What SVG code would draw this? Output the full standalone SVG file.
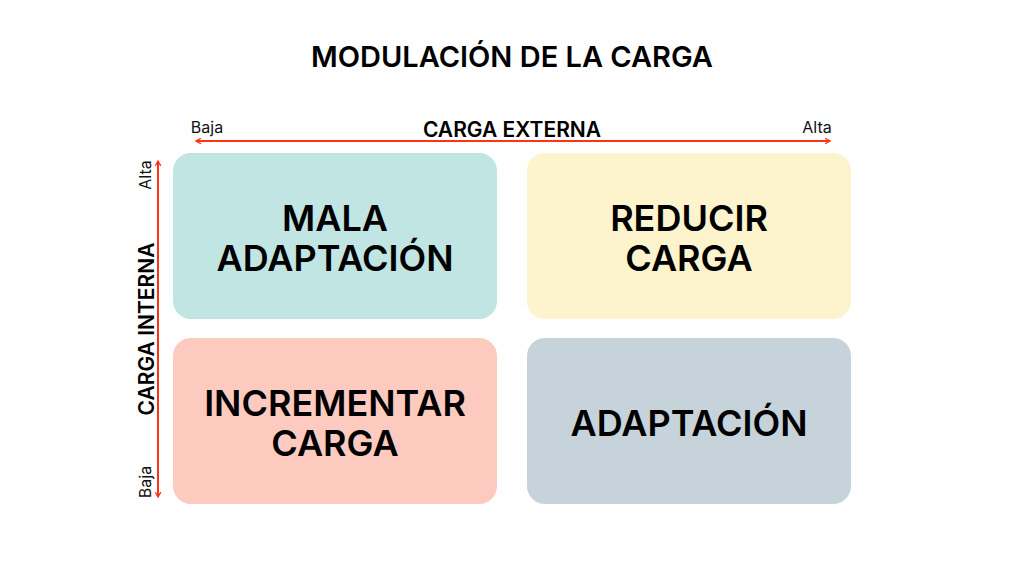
<svg xmlns="http://www.w3.org/2000/svg" width="1024" height="576" viewBox="0 0 1024 576">
<defs>
<marker id="ah" viewBox="0 0 10 10" refX="8" refY="5" markerWidth="7" markerHeight="7" orient="auto-start-reverse" markerUnits="userSpaceOnUse"><path d="M1,1 L8,5 L1,9" fill="none" stroke="#ff3316" stroke-width="1.8"/></marker>
</defs>
<style>
.t{font-family:Inter,"Liberation Sans",sans-serif;font-weight:600;fill:#000;text-anchor:middle}
.big{font-size:36px}
.s{font-family:Inter,"Liberation Sans",sans-serif;font-size:16px;fill:#111;text-anchor:middle}
.ax{stroke:#ff3316;stroke-width:2;fill:none}
</style>
<rect width="1024" height="576" fill="#fff"/>
<text class="t" x="512" y="67" font-size="29" font-weight="700">MODULACIÓN DE LA CARGA</text>
<g id="connectors">
<line class="ax" x1="196" y1="141" x2="830" y2="141" marker-start="url(#ah)" marker-end="url(#ah)"/>
<line class="ax" x1="158" y1="161" x2="158" y2="497" marker-start="url(#ah)" marker-end="url(#ah)"/>
</g>
<g id="axis-labels">
<text class="t" x="512" y="137" font-size="21" font-weight="500">CARGA EXTERNA</text>
<text class="s" x="207" y="133">Baja</text>
<text class="s" x="817" y="133">Alta</text>
<text class="t" font-size="21" font-weight="500" transform="translate(154,329) rotate(-90)">CARGA INTERNA</text>
<text class="s" transform="translate(151,175) rotate(-90)">Alta</text>
<text class="s" transform="translate(151,482) rotate(-90)">Baja</text>
</g>
<g id="tl"><rect x="173" y="153" width="324" height="166" rx="18" fill="#c0e5e3"/><text class="t big" x="335" y="231">MALA</text><text class="t big" x="335" y="271">ADAPTACIÓN</text></g>
<g id="tr"><rect x="527" y="153" width="324" height="166" rx="18" fill="#fdf3cc"/><text class="t big" x="689" y="231">REDUCIR</text><text class="t big" x="689" y="271">CARGA</text></g>
<g id="bl"><rect x="173" y="338" width="324" height="166" rx="18" fill="#fdcac0"/><text class="t big" x="335" y="416">INCREMENTAR</text><text class="t big" x="335" y="456">CARGA</text></g>
<g id="br"><rect x="527" y="338" width="324" height="166" rx="18" fill="#c6d3da"/><text class="t big" x="689" y="436">ADAPTACIÓN</text></g>
</svg>
